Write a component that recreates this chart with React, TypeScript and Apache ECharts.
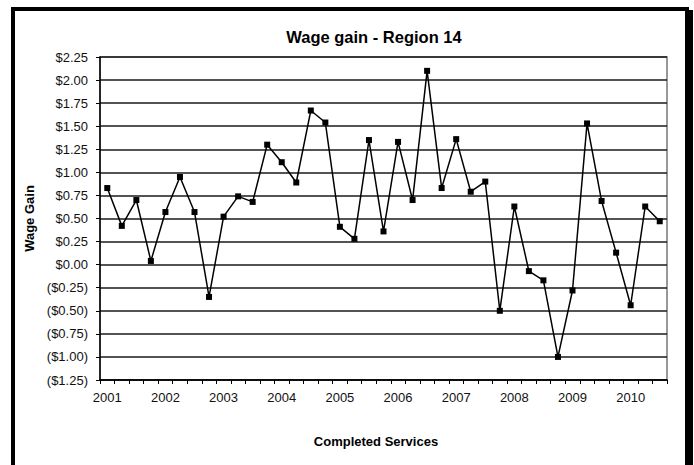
import React, { useEffect, useRef } from "react";
import * as echarts from "echarts";

const years = ["2001", "2002", "2003", "2004", "2005", "2006", "2007", "2008", "2009", "2010"];
const quarters = ["Q1", "Q2", "Q3", "Q4"];
const categories = years.flatMap((y) => quarters.map((q) => `${y} ${q}`)).slice(0, 39);

const wageGain = [
  0.83, 0.42, 0.70, 0.04, 0.57, 0.95, 0.57, -0.35,
  0.52, 0.74, 0.68, 1.30, 1.11, 0.89, 1.67, 1.54,
  0.41, 0.28, 1.35, 0.36, 1.33, 0.70, 2.10, 0.83,
  1.36, 0.79, 0.90, -0.50, 0.63, -0.07, -0.17, -1.00,
  -0.28, 1.53, 0.69, 0.13, -0.44, 0.63, 0.47,
];

const titleText = "Wage gain - Region 14";
const xAxisName = "Completed Services";
const yAxisName = "Wage Gain";

const FONT = "'Liberation Sans', Arial, sans-serif";

function fmtMoney(v: number): string {
  const s = Math.abs(v).toFixed(2);
  return v < 0 ? `($${s})` : `$${s}`;
}

export default function App() {
  const ref = useRef<HTMLDivElement>(null);
  useEffect(() => {
    document.body.style.margin = "0";
    if (!ref.current) return;
    const chart = echarts.init(ref.current, null, { renderer: "svg" });
    chart.setOption({
      animation: false,
      backgroundColor: "#ffffff",
      title: [
        {
          text: titleText,
          left: 369,
          top: 23,
          textAlign: "center",
          textStyle: { fontFamily: FONT, fontSize: 16.5, fontWeight: "bold", color: "#000" },
        },
        {
          text: xAxisName,
          left: 371,
          top: 430,
          textAlign: "center",
          textStyle: { fontFamily: FONT, fontSize: 13, fontWeight: "bold", color: "#000" },
        },
      ],
      grid: {
        left: 100,
        right: 27,
        top: 57,
        bottom: 85,
        show: true,
        borderColor: "#777",
        borderWidth: 1.5,
        backgroundColor: "transparent",
      },
      xAxis: {
        type: "category",
        data: categories,
        boundaryGap: true,
        axisLine: { show: true, onZero: false, lineStyle: { color: "#000", width: 1.5 } },
        axisTick: { show: true, interval: 0, length: 4, lineStyle: { color: "#000", width: 1 } },
        axisLabel: {
          interval: 3,
          margin: 11,
          fontFamily: FONT,
          fontSize: 13,
          color: "#111",
          formatter: (v: string) => v.split(" ")[0],
        },
        splitLine: { show: false },
      },
      yAxis: {
        type: "value",
        min: -1.25,
        max: 2.25,
        interval: 0.25,
        name: yAxisName,
        nameLocation: "middle",
        nameRotate: 90,
        nameGap: 64,
        nameTextStyle: { fontFamily: FONT, fontSize: 13, fontWeight: "bold", color: "#000" },
        axisLine: { show: true, lineStyle: { color: "#000", width: 1.5 } },
        axisTick: { show: true, length: 4, lineStyle: { color: "#000", width: 1 } },
        axisLabel: {
          margin: 12,
          fontFamily: FONT,
          fontSize: 13,
          color: "#111",
          formatter: (v: number) => fmtMoney(v),
        },
        splitLine: { show: true, lineStyle: { color: "#1a1a1a", width: 1.5 } },
      },
      series: [
        {
          type: "line",
          data: wageGain,
          symbol: "rect",
          symbolSize: 6,
          showAllSymbol: true,
          lineStyle: { color: "#000", width: 1.5 },
          itemStyle: { color: "#000" },
        },
      ],
      graphic: [
        { type: "rect", shape: { x: 11, y: 7, width: 678, height: 4 }, style: { fill: "#000" } },
        { type: "rect", shape: { x: 11, y: 7, width: 4, height: 458 }, style: { fill: "#000" } },
        { type: "rect", shape: { x: 685, y: 10, width: 8, height: 455 }, style: { fill: "#000" } },
      ],
    });
    return () => chart.dispose();
  }, []);
  return <div ref={ref} style={{ width: 694, height: 465 }} />;
}
